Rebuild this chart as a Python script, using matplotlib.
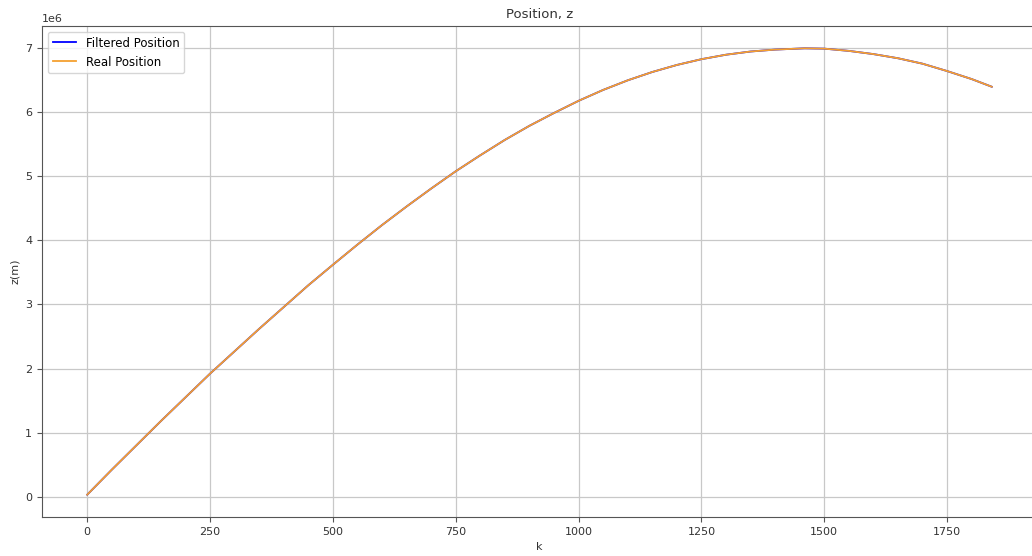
import matplotlib
matplotlib.use("Agg")
import matplotlib.pyplot as plt

# values (z in metres)
k_steps = [0, 50, 100, 150, 200, 250, 300, 350, 400, 450, 500, 550, 600,
           650, 700, 750, 800, 850, 900, 950, 1000, 1050, 1100, 1150, 1200,
           1250, 1300, 1350, 1400, 1460, 1500, 1550, 1600, 1650, 1700, 1750,
           1800, 1841]
real_z = [0.03e6, 0.42e6, 0.80e6, 1.18e6, 1.55e6, 1.92e6, 2.27e6, 2.62e6,
          2.96e6, 3.30e6, 3.62e6, 3.935e6, 4.24e6, 4.53e6, 4.81e6, 5.08e6,
          5.33e6, 5.57e6, 5.79e6, 5.99e6, 6.18e6, 6.35e6, 6.50e6, 6.63e6,
          6.74e6, 6.83e6, 6.90e6, 6.95e6, 6.98e6, 7.00e6, 6.995e6, 6.96e6,
          6.91e6, 6.845e6, 6.76e6, 6.645e6, 6.52e6, 6.40e6]
# the filter output lies on top of the real position
filtered_z = list(real_z)

fig = plt.figure(figsize=(10.32, 5.56), dpi=100)
ax = fig.add_axes([42 / 1032, 39 / 556, 995 / 1032, 491 / 556])

ax.plot(k_steps, filtered_z, color="blue", linewidth=1.3, label="Filtered Position")
ax.plot(k_steps, real_z, color="#f5a030", linewidth=1.3, label="Real Position")

ax.set_title("Position, z", fontsize=9.5, color="#333333")
ax.set_xlabel("k", fontsize=8, color="#333333")
ax.set_ylabel("z(m)", fontsize=8, color="#333333")
ax.tick_params(labelsize=8, labelcolor="#333333", color="#555555")
ax.yaxis.get_offset_text().set_fontsize(8)
ax.yaxis.get_offset_text().set_color("#333333")
for side in ax.spines.values():
    side.set_color("#555555")
ax.set_xticks([0, 250, 500, 750, 1000, 1250, 1500, 1750])
ax.grid(True, color="#c8c8c8", linewidth=0.9)
ax.legend(loc="upper left", fontsize=8.5)

fig.savefig("out.png", dpi=100)
